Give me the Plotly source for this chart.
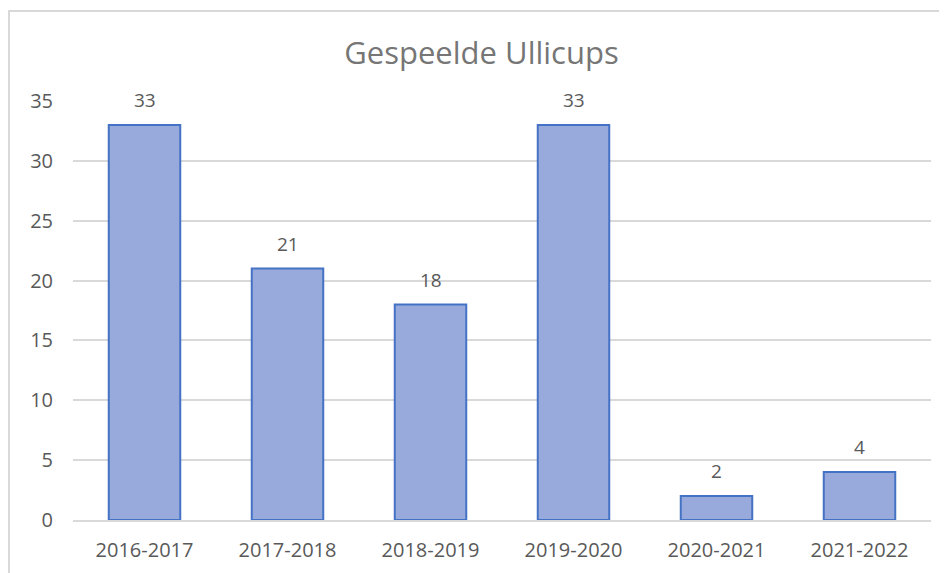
import plotly.graph_objects as go

seasons = ["2016-2017", "2017-2018", "2018-2019", "2019-2020", "2020-2021", "2021-2022"]
cups = [33, 21, 18, 33, 2, 4]
y_ticks = [0, 5, 10, 15, 20, 25, 30, 35]

FONT = "Open Sans"
GREY = "#595959"

fig = go.Figure(
    go.Bar(
        x=seasons,
        y=cups,
        marker=dict(color="#98aadc", line=dict(color="#4472c4", width=2)),
        hoverinfo="x+y",
    )
)

annotations = [
    dict(
        x=s, y=v, xref="x", yref="y",
        text=str(v), showarrow=False,
        yanchor="bottom", yshift=10,
        font=dict(family=FONT, size=19, color=GREY),
    )
    for s, v in zip(seasons, cups)
]

# page has an 8px body margin; figure coords = page coords - 8
L, R, T, B = 65, 24, 93, 61
PW = 947 - L - R
PH = 573 - T - B

fig.update_layout(
    width=947,
    height=573,
    paper_bgcolor="white",
    plot_bgcolor="white",
    margin=dict(l=L, r=R, t=T, b=B),
    bargap=0.5,
    showlegend=False,
    annotations=annotations,
    title=dict(
        text="Gespeelde Ullicups",
        x=0.5,
        xanchor="center",
        y=1 - 45 / 573,
        yanchor="middle",
        font=dict(family=FONT, size=31, color="#767676"),
    ),
    xaxis=dict(
        showgrid=False,
        showline=True,
        linecolor="#d9d9d9",
        linewidth=1.5,
        ticks="",
        tickfont=dict(family=FONT, size=20, color=GREY),
        ticklabelstandoff=11,
    ),
    yaxis=dict(
        range=[0, 35],
        tickvals=y_ticks,
        showgrid=True,
        gridcolor="#d9d9d9",
        gridwidth=1.5,
        zeroline=False,
        showline=False,
        ticks="",
        tickfont=dict(family=FONT, size=20, color=GREY),
        ticklabelstandoff=19,
    ),
    shapes=[
        dict(
            type="rect",
            xref="paper",
            yref="paper",
            x0=(1 - L) / PW,
            x1=1.3,
            y0=-0.3,
            y1=(T + PH - 3) / PH,
            line=dict(color="#d9d9d9", width=2),
            fillcolor="rgba(0,0,0,0)",
            layer="below",
        )
    ],
)

fig.write_html("out.html")
